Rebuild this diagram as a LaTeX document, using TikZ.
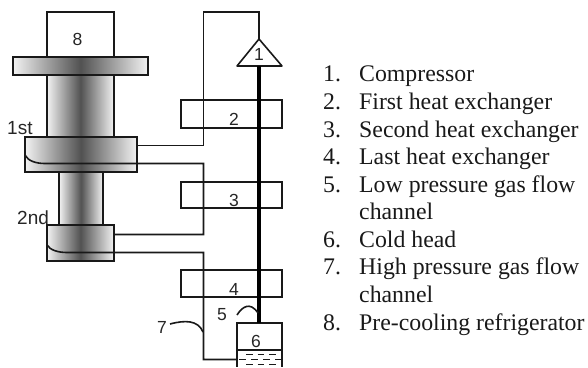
\documentclass[tikz,border=0pt]{standalone}
\usepackage{fontspec}
\setmainfont{Liberation Serif}
\newfontfamily\labelfont{Liberation Sans}
\tikzset{
  ln/.style={draw=black!90,line width=1.6pt},
  boxn/.style={ln,rectangle,inner sep=0pt,outer sep=0pt,anchor=north west},
  shadedn/.style={boxn,left color=black!5,right color=black!5,middle color=black!68},
  tag/.style={font=\labelfont\fontsize{17.5}{18}\selectfont,inner sep=0pt,text=black!85},
  stagetag/.style={font=\labelfont\fontsize{19}{20}\selectfont,inner sep=0pt,text=black!85,anchor=base west},
  item/.style={font=\fontsize{23.8}{27}\selectfont,inner sep=0pt,anchor=base west,text=black!90}
}
\begin{document}
\begin{tikzpicture}[x=1pt,y=-1pt]
\useasboundingbox (0,0) rectangle (588,367);
% cooler
\node[boxn,minimum width=67pt,minimum height=45pt] (b8) at (47,12) {};
\node[shadedn,minimum width=67pt,minimum height=62pt] (col1) at (47,75) {};
\node[shadedn,minimum width=135pt,minimum height=18pt] (flange) at (13,57) {};
\node[shadedn,minimum width=44pt,minimum height=53pt] (col2) at (59,172) {};
\node[shadedn,minimum width=112pt,minimum height=35pt] (st1) at (25,137) {};
\node[shadedn,minimum width=67pt,minimum height=36pt] (st2) at (47,225) {};
\node[tag] (t8) at (77.5,39) {8};
\node[stagetag] (t1st) at (7,134) {1st};
\node[stagetag] (t2nd) at (17,224) {2nd};
% heat exchangers
\node[boxn,minimum width=101pt,minimum height=28pt] (hx2) at (181,100) {};
\node[boxn,minimum width=101pt,minimum height=26pt] (hx3) at (181,182) {};
\node[boxn,minimum width=101pt,minimum height=27pt] (hx4) at (181,270) {};
\node[tag] (t2) at (234,119) {2};
\node[tag] (t3) at (234,200) {3};
\node[tag] (t4) at (234,289) {4};
% compressor
\coordinate (tt) at (259,39);
\coordinate (tl) at (237,66);
\coordinate (tr) at (282,66);
\draw[ln,line join=round] (tt) -- (tr) -- (tl) -- cycle;
\node[tag] (t1) at (259,54) {1};
% cold head
\node[boxn,minimum width=45pt,minimum height=27pt] (ch) at (237,323) {};
\coordinate (chbl) at (237,367);
\coordinate (chbr) at (282,367);
\draw[ln] (ch.south west) -- (chbl) (ch.south east) -- (chbr);
\foreach \xa/\ya in {246/354.5,257.5/354.5,269/354.5,239/359.5,251/359.5,263/359.5,275/359.5,246/364.5,257.5/364.5,269/364.5}{
  \draw[draw=black!90,line width=1pt] (\xa,\ya) -- ++(6.5,0);
}
\node[tag] (t6) at (256,341) {6};
% thick line
\draw[draw=black,line width=3.4pt] (259,66) -- (259,323);
% flow lines
\coordinate (c1) at (137,145.5);
\coordinate (c2) at (203.5,145.5);
\coordinate (c3) at (203.5,12);
\coordinate (c4) at (259,12);
\draw[ln] (c1) -- (c2) -- (c3) -- (c4) -- (tt);
\coordinate (d1) at (25,155);
\coordinate (d2) at (45,163.5);
\coordinate (d3) at (203.5,163.5);
\coordinate (d4) at (203.5,234.5);
\coordinate (d5) at (114,234.5);
\draw[ln] (d1) .. controls (28,161) and (36,163.5) .. (d2) -- (d3) -- (d4) -- (d5);
\coordinate (e1) at (47,245);
\coordinate (e2) at (67,252.5);
\coordinate (e3) at (203.5,252.5);
\coordinate (e4) at (203.5,359.5);
\coordinate (e5) at (237,359.5);
\draw[ln] (e1) .. controls (50,250) and (58,252.5) .. (e2) -- (e3) -- (e4) -- (e5);
% leaders
\node[tag] (t5) at (222,315) {5};
\node[tag] (t7) at (162,327) {7};
\coordinate (l5a) at (237,315);
\coordinate (l5b) at (258,313);
\draw[ln] (l5a) .. controls (242,307) and (250,301) .. (l5b);
\coordinate (l7a) at (170,324);
\coordinate (l7b) at (203,332);
\draw[ln] (l7a) .. controls (185,320) and (198,320) .. (l7b);
% legend
\foreach \n/\yy/\tx in {1/81/Compressor,2/109/First heat exchanger,3/137/Second heat exchanger,4/164/Last heat exchanger,5/192/Low pressure gas flow,6/247/Cold head,7/274/High pressure gas flow,8/330/Pre-cooling refrigerator}{
  \node[item] (n\n) at (323,\yy) {\n.};
  \node[item] (i\n) at (359,\yy) {\tx};
}
\node[item] (i5b) at (359,219) {channel};
\node[item] (i7b) at (359,302) {channel};
\end{tikzpicture}
\end{document}
